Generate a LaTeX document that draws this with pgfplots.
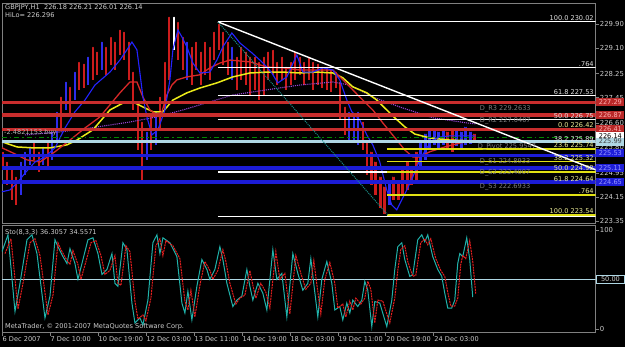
\documentclass[border=0pt]{standalone}
\usepackage{pgfplots}
\pgfplotsset{compat=1.18}
\usepackage{pgfplotstable}
\usepackage{fontspec}
\setmainfont{DejaVu Sans}

\definecolor{barred}{RGB}{205,28,28}
\definecolor{barblue}{RGB}{45,45,235}
\definecolor{mablue}{RGB}{35,35,255}
\definecolor{mared}{RGB}{215,40,40}
\definecolor{mayellow}{RGB}{235,235,25}
\definecolor{mapurple}{RGB}{150,70,210}
\definecolor{pivred}{RGB}{200,45,45}
\definecolor{pivblue}{RGB}{28,28,215}
\definecolor{pivlight}{RGB}{175,215,228}
\definecolor{fibyellow}{RGB}{225,225,20}
\definecolor{ordgreen}{RGB}{0,135,0}
\definecolor{stoteal}{RGB}{32,178,170}
\definecolor{stored}{RGB}{230,30,30}
\definecolor{txtgray}{RGB}{205,205,205}
\definecolor{dimgray}{RGB}{125,125,125}
\definecolor{framegray}{RGB}{128,128,128}
\definecolor{fibtxtw}{RGB}{225,225,225}
\definecolor{fibtxty}{RGB}{235,235,150}
\definecolor{boxred}{RGB}{185,40,40}
\definecolor{boxredtxt}{RGB}{255,175,175}
\definecolor{boxblue}{RGB}{30,30,215}
\definecolor{boxbluetxt}{RGB}{150,150,255}

\newcommand{\sm}{\fontsize{6.6}{7}\selectfont}
\newcommand{\smp}{\fontsize{6.9}{7.5}\selectfont}

% candles: x lo hi
\pgfplotstableread{
x lo hi
3 225.05 225.71
7 224.55 225.38
12 224.05 225.21
16 223.88 224.88
34 225.38 226.04
39 224.98 225.71
48 225.05 226.04
61 226.38 227.54
70 226.88 227.87
79 227.71 228.70
84 227.77 228.64
93 228.04 229.20
97 228.21 229.04
106 228.21 229.20
111 228.54 229.53
115 228.37 229.37
120 228.87 229.77
124 228.70 229.70
129 228.04 229.37
133 227.04 228.37
138 225.71 227.37
142 224.72 226.71
151 225.71 226.88
160 226.38 227.54
165 227.04 228.70
169 228.04 230.20
178 228.70 230.03
183 228.37 229.53
192 227.87 229.20
196 228.37 229.37
201 227.87 229.04
205 228.21 229.37
210 228.04 229.20
214 228.70 229.70
219 229.04 229.97
223 228.54 229.70
228 228.21 229.37
237 227.71 228.87
241 228.04 229.20
246 227.87 229.04
250 227.54 228.87
255 227.71 228.87
259 227.37 228.70
264 227.54 228.87
268 228.04 229.04
273 228.21 229.10
277 227.87 228.70
282 228.04 228.87
286 227.71 228.54
291 227.87 228.70
295 228.04 229.04
300 228.21 228.87
304 227.87 228.70
309 228.04 228.87
313 227.71 228.70
318 227.87 228.64
322 227.77 228.54
327 227.71 228.54
331 227.64 228.44
336 227.77 228.37
340 226.71 228.04
345 226.21 227.21
363 225.71 226.71
367 224.88 226.04
372 224.55 225.71
376 224.22 225.38
381 223.78 224.88
385 223.59 224.55
394 224.05 224.88
399 224.05 224.72
403 224.22 225.21
408 224.38 225.38
412 224.55 225.21
417 224.72 225.71
448 225.71 226.38
453 225.65 226.48
475 226.04 226.31
}\redbars

\pgfplotstableread{
x lo hi
21 224.22 225.38
25 224.88 225.71
30 225.21 225.88
43 225.21 225.88
52 225.38 226.38
57 226.04 227.04
66 227.04 228.04
75 227.37 228.37
88 227.87 228.87
102 228.37 229.37
147 225.38 226.38
156 225.88 227.04
187 228.04 229.37
232 228.04 229.20
349 226.04 227.04
354 226.04 226.88
358 225.88 227.04
390 223.88 224.72
421 225.05 226.04
426 225.38 226.31
430 225.71 226.44
435 225.88 226.44
439 225.78 226.38
444 225.88 226.44
457 225.85 226.44
462 225.78 226.38
466 225.88 226.54
471 225.91 226.38
}\bluebars

\pgfplotstableread{
x lo hi
174 229.04 230.20
}\whitebars

\pgfplotstableread{
x y
2 224.32
10 224.38
18 224.65
26 224.98
35 225.31
45 225.48
55 225.78
65 226.44
75 226.98
85 227.37
95 227.87
110 228.30
120 228.70
127 229.04
132 229.30
137 229.04
140 228.27
143 227.47
147 226.81
152 226.21
158 226.38
165 227.04
170 228.04
173 229.04
178 229.70
182 229.47
187 229.14
193 228.60
200 228.27
210 228.30
217 228.70
223 229.14
232 229.60
240 229.27
252 228.94
260 228.70
267 228.47
272 228.27
278 227.94
287 228.14
297 228.87
303 228.30
313 228.30
323 228.44
333 228.37
340 228.04
347 227.37
352 226.98
360 226.71
367 226.21
373 225.88
380 225.31
387 224.38
392 223.88
397 223.72
402 224.05
407 224.38
413 224.81
420 225.38
427 225.78
433 226.04
440 226.14
450 226.18
460 226.18
470 226.18
476 226.18
}\blueMA

\pgfplotstableread{
x y
2 225.78
13 225.61
27 225.38
40 225.31
55 225.65
70 226.04
85 226.44
100 226.81
120 227.61
130 227.97
137 227.97
143 227.47
150 227.04
157 226.88
162 226.98
167 227.54
172 227.87
177 228.04
187 228.14
200 228.21
210 228.44
220 228.60
230 228.70
250 228.64
267 228.47
283 228.44
300 228.37
317 228.37
333 228.37
340 228.14
350 227.81
360 227.47
373 227.04
383 226.61
397 226.04
405 225.71
413 225.48
420 225.48
430 225.65
445 225.81
460 225.94
476 226.04
}\redMA

\pgfplotstableread{
x y
2 225.98
17 225.81
33 225.78
50 225.78
67 225.88
77 226.04
93 226.38
110 227.04
123 227.27
133 227.31
143 227.14
153 226.98
163 226.98
173 227.37
187 227.61
200 227.77
217 227.94
233 228.14
250 228.27
267 228.30
283 228.30
300 228.27
317 228.30
333 228.27
343 228.11
353 227.81
367 227.61
377 227.37
387 227.04
395 226.78
405 226.48
415 226.24
430 226.11
450 226.04
476 226.01
}\yellowMA

\pgfplotstableread{
x y
25 226.21
60 226.31
90 226.44
130 226.64
157 226.81
183 227.04
210 227.31
233 227.54
267 227.71
300 227.87
333 227.97
350 227.87
373 227.47
400 227.14
433 226.78
467 226.61
476 226.58
}\purpleMA

\pgfplotstableread{
x v
2 78
8 95
15 17.5
20 46
27 90
32 95
37 76
45 11
50 33
55 90
58 83
63 73
67 66
70 81
75 66
78 50
83 70
88 90
93 92
98 76
102 55
107 60
112 76
115 46
118 43
123 87
127 80
132 26
135 6
140 11
143 4
148 29
153 87
157 95
160 76
163 92
170 87
177 73
182 26
185 16
188 38
192 9
197 43
202 70
207 60
210 50
215 60
220 83
223 70
227 46
233 22.5
237 29
242 33
247 60
250 43
253 29
258 46
263 36
267 19
273 80
277 50
282 56
287 12
293 76
298 56
303 39
308 46
311 71
314 45
318 12
322 50
327 68
332 46
335 19
340 22.5
343 9
347 26
350 16
353 29
358 22.5
362 29
365 48
368 39
372 2.3
375 27.6
380 26
385 9
387 2.3
392 29
395 60
398 83
402 87
405 70
410 53
413 54.5
418 90
422 95
425 88
428 95
433 73
438 60
442 53
445 36
448 21
452 21
455 29
458 66
460 76
463 73
467 92
470 70
473 32
}\stoK

\pgfplotstableread{
x v
5 76
11 91
18 20
23 46
30 87
35 91
40 74
48 14
53 34
58 87
61 80
66 71
70 65
73 79
78 65
81 50
86 68
91 87
96 89
101 74
105 55
110 59
115 74
118 46
121 44
126 84
130 78
135 28
138 10
143 14
146 8
151 31
156 84
160 91
163 74
166 89
173 84
180 71
185 28
188 19
191 39
195 12
200 44
205 68
210 59
213 50
218 59
223 80
226 68
230 46
236 25
240 31
245 34
250 59
253 44
256 31
261 46
266 37
270 21
276 78
280 50
285 56
290 15
296 74
301 56
306 40
311 46
314 69
317 45
321 15
325 50
330 67
335 46
338 21
343 25
346 12
350 28
353 19
356 31
361 25
365 31
368 48
371 40
375 6
378 29
383 28
388 12
390 6
395 31
398 59
401 80
405 84
408 68
413 53
416 54
421 87
425 91
428 85
431 91
436 71
441 59
445 53
448 37
451 23
455 23
458 31
461 65
463 74
466 71
470 89
473 68
476 35
}\stoD

\begin{document}
\begin{tikzpicture}
\fill[black] (0pt,0pt) rectangle (625pt,347pt);

% ---------------- main price panel ----------------
\begin{axis}[
  at={(2pt,123pt)}, anchor=south west, scale only axis,
  width=594pt, height=221pt,
  xmin=2, xmax=596, ymin=223.252, ymax=230.598,
  axis line style={framegray, line width=0.8pt},
  xtick=\empty,
  ytick={223.35,224.15,224.95,225.80,226.60,227.45,228.25,229.10,229.90},
  yticklabels={223.35,224.15,224.95,225.80,226.60,227.45,228.25,229.10,229.90},
  ytick pos=right, yticklabel pos=right, tick align=outside,
  major tick length=3pt, tick style={framegray, line width=0.6pt},
  yticklabel style={font=\smp, text=txtgray, inner sep=1pt},
  clip mode=individual,
]
% candles
\addplot[only marks, mark=none, error bars/.cd, y dir=minus, y explicit, error mark=none,
  error bar style={draw=barred, line width=2.6pt}]
  table[x=x, y=hi, y error minus expr={\thisrow{hi}-\thisrow{lo}}] {\redbars};
\addplot[only marks, mark=none, error bars/.cd, y dir=minus, y explicit, error mark=none,
  error bar style={draw=barblue, line width=2.6pt}]
  table[x=x, y=hi, y error minus expr={\thisrow{hi}-\thisrow{lo}}] {\bluebars};
\addplot[only marks, mark=none, error bars/.cd, y dir=minus, y explicit, error mark=none,
  error bar style={draw=white, line width=2.6pt}]
  table[x=x, y=hi, y error minus expr={\thisrow{hi}-\thisrow{lo}}] {\whitebars};

% moving averages
\addplot[mapurple, line width=1.1pt, densely dotted] table[x=x,y=y] {\purpleMA};
\addplot[mayellow, line width=1.5pt] table[x=x,y=y] {\yellowMA};
\addplot[mared, line width=1.3pt] table[x=x,y=y] {\redMA};
\addplot[mablue, line width=1.1pt] table[x=x,y=y] {\blueMA};

% white fibonacci levels
\addplot[white, line width=1.2pt] coordinates {(218,229.97) (596,229.97)};
\addplot[white, line width=1.2pt] coordinates {(218,228.44) (596,228.44)};
\addplot[white, line width=1.2pt] coordinates {(218,227.51) (596,227.51)};
\addplot[white, line width=1.2pt] coordinates {(218,226.72) (596,226.72)};
\addplot[white, line width=1.2pt] coordinates {(218,225.96) (596,225.96)};
\addplot[white, line width=1.2pt] coordinates {(218,224.98) (596,224.98)};
\addplot[white, line width=1.2pt] coordinates {(218,223.49) (596,223.49)};
% yellow fibonacci levels
\addplot[fibyellow, line width=1.6pt] coordinates {(387,226.42) (596,226.42)};
\addplot[fibyellow, line width=1.6pt] coordinates {(387,225.74) (596,225.74)};
\addplot[fibyellow, line width=1.6pt] coordinates {(387,225.32) (596,225.32)};
\addplot[fibyellow, line width=1.6pt] coordinates {(387,224.98) (596,224.98)};
\addplot[fibyellow, line width=1.6pt] coordinates {(387,224.64) (596,224.64)};
\addplot[fibyellow, line width=1.6pt] coordinates {(387,224.22) (596,224.22)};
\addplot[fibyellow, line width=2.2pt] coordinates {(387,223.55) (596,223.55)};

% pivot lines
\addplot[pivred, line width=3.2pt] coordinates {(2,227.29) (596,227.29)};
\addplot[pivred, line width=3.2pt] coordinates {(2,226.87) (596,226.87)};
\addplot[pivred, line width=3.2pt] coordinates {(2,226.40) (596,226.40)};
\addplot[ordgreen, line width=1.2pt, dash pattern=on 5pt off 3pt on 1.5pt off 3pt] coordinates {(2,226.12) (596,226.12)};
\addplot[pivlight, line width=2.6pt] coordinates {(2,225.99) (596,225.99)};
\addplot[pivblue, line width=3.4pt] coordinates {(2,225.53) (596,225.53)};
\addplot[pivblue, line width=3.4pt] coordinates {(2,225.11) (596,225.11)};
\addplot[pivblue, line width=3.4pt] coordinates {(2,224.65) (596,224.65)};

% trend lines
\addplot[white, line width=1.4pt] coordinates {(218,229.97) (596,225.05)};
\addplot[stoteal!80!black, line width=1pt, densely dotted] coordinates {(218,229.97) (388,223.55)};

% texts
\node[anchor=west, font=\sm, text=txtgray, inner sep=1pt] at (axis cs:4,230.43) {GBPJPY,H1\ \ 226.18 226.21 226.01 226.14};
\node[anchor=west, font=\sm, text=txtgray, inner sep=1pt] at (axis cs:4,230.19) {HiLo= 226.296};
\node[anchor=west, font=\sm, text=dimgray!60!white, inner sep=1pt] at (axis cs:3,226.27) {-2.4821153 buy};

\node[anchor=west, font=\sm, text=dimgray, inner sep=0pt] at (axis cs:480,227.08) {D\_R3 229.2633};
\node[anchor=west, font=\sm, text=dimgray, inner sep=0pt] at (axis cs:480,226.68) {D\_R2 227.0407};
\node[anchor=west, font=\sm, text=dimgray, inner sep=0pt] at (axis cs:478,225.81) {D\_Pivot 225.9547};
\node[anchor=west, font=\sm, text=dimgray, inner sep=0pt] at (axis cs:480,225.31) {D\_S1 224.8933};
\node[anchor=west, font=\sm, text=dimgray, inner sep=0pt] at (axis cs:480,224.95) {D\_S2 223.4007};
\node[anchor=west, font=\sm, text=dimgray, inner sep=0pt] at (axis cs:480,224.48) {D\_S3 222.6933};

\node[anchor=south east, font=\sm, text=fibtxtw, inner sep=0.8pt] at (axis cs:595,229.97) {100.0 230.02};
\node[anchor=south east, font=\sm, text=fibtxtw, inner sep=0.8pt] at (axis cs:595,228.44) {.764};
\node[anchor=south east, font=\sm, text=fibtxtw, inner sep=0.8pt] at (axis cs:595,227.51) {61.8 227.53};
\node[anchor=south east, font=\sm, text=fibtxtw, inner sep=0.8pt] at (axis cs:595,226.72) {50.0 226.75};
\node[anchor=south east, font=\sm, text=fibtxtw, inner sep=0.8pt] at (axis cs:595,225.96) {38.2 225.89};
\node[anchor=south east, font=\sm, text=fibtxty, inner sep=0.8pt] at (axis cs:595,226.42) {0.0 226.42};
\node[anchor=south east, font=\sm, text=fibtxty, inner sep=0.8pt] at (axis cs:595,225.74) {23.6 225.74};
\node[anchor=south east, font=\sm, text=fibtxty, inner sep=0.8pt] at (axis cs:595,225.32) {38.2 225.32};
\node[anchor=south east, font=\sm, text=fibtxty, inner sep=0.8pt] at (axis cs:595,224.98) {50.0 224.98};
\node[anchor=south east, font=\sm, text=fibtxty, inner sep=0.8pt] at (axis cs:595,224.64) {61.8 224.64};
\node[anchor=south east, font=\sm, text=fibtxty, inner sep=0.8pt] at (axis cs:595,224.22) {.764};
\node[anchor=south east, font=\sm, text=fibtxty, inner sep=0.8pt] at (axis cs:595,223.55) {100.0 223.54};

% anchors for price boxes
\coordinate (b1) at (axis cs:596.5,227.29);
\coordinate (b2) at (axis cs:596.5,226.87);
\coordinate (b3) at (axis cs:596.5,226.40);
\coordinate (b4) at (axis cs:596.5,226.16);
\coordinate (b5) at (axis cs:596.5,225.99);
\coordinate (b6) at (axis cs:596.5,225.60);
\coordinate (b7) at (axis cs:596.5,225.11);
\coordinate (b8) at (axis cs:596.5,224.65);
\end{axis}

% ---------------- stochastic panel ----------------
\begin{axis}[
  at={(2pt,14pt)}, anchor=south west, scale only axis,
  width=594pt, height=107pt,
  xmin=2, xmax=596, ymin=-4.04, ymax=104.04,
  axis line style={framegray, line width=0.8pt},
  ytick={0,100}, yticklabels={0,100},
  ytick pos=right, yticklabel pos=right,
  xtick={2,50,98,146,194,242,290,338,386,434},
  xticklabels={6 Dec 2007,7 Dec 10:00,10 Dec 19:00,12 Dec 03:00,13 Dec 11:00,14 Dec 19:00,18 Dec 03:00,19 Dec 11:00,20 Dec 19:00,24 Dec 03:00},
  xtick pos=bottom, tick align=outside,
  major tick length=3pt, tick style={framegray, line width=0.6pt},
  xticklabel style={font=\sm, text=txtgray, anchor=north west, inner sep=1pt, xshift=-0.5pt},
  yticklabel style={font=\smp, text=txtgray, inner sep=1pt},
  clip mode=individual,
]
\addplot[pivlight, line width=1.6pt] coordinates {(2,50) (596,50)};
\addplot[stoteal, line width=1pt] table[x=x,y=v] {\stoK};
\addplot[stored, line width=1pt, dash pattern=on 2pt off 0.8pt] table[x=x,y=v] {\stoD};
\node[anchor=west, font=\sm, text=txtgray, inner sep=1pt] at (axis cs:4,97) {Sto(8,3,3) 36.3057 34.5571};
\node[anchor=west, font=\sm, text=txtgray, inner sep=1pt] at (axis cs:4,2) {MetaTrader, © 2001-2007 MetaQuotes Software Corp.};
\coordinate (s50) at (axis cs:596.5,50);
\end{axis}

% ---------------- price boxes on the right scale ----------------
\tikzset{pbox/.style={anchor=west, font=\sm, minimum width=28pt, minimum height=8pt, inner sep=0pt}}
\node[pbox, fill=boxred, text=boxredtxt] at (b1) {227.29};
\node[pbox, fill=boxred, text=boxredtxt] at (b2) {226.87};
\node[pbox, fill=boxred, text=boxredtxt] at (b3) {226.41};
\node[pbox, fill=white, text=black] at (b4) {226.14};
\node[pbox, fill=pivlight, text=black!75] at (b5) {225.99};
\node[pbox, fill=boxblue, text=boxbluetxt] at (b6) {225.53};
\node[pbox, fill=boxblue, text=boxbluetxt] at (b7) {225.11};
\node[pbox, fill=boxblue, text=boxbluetxt] at (b8) {224.65};
\node[pbox, fill=black, draw=pivlight, text=txtgray, line width=0.6pt] at (s50) {50.00};
\end{tikzpicture}
\end{document}
